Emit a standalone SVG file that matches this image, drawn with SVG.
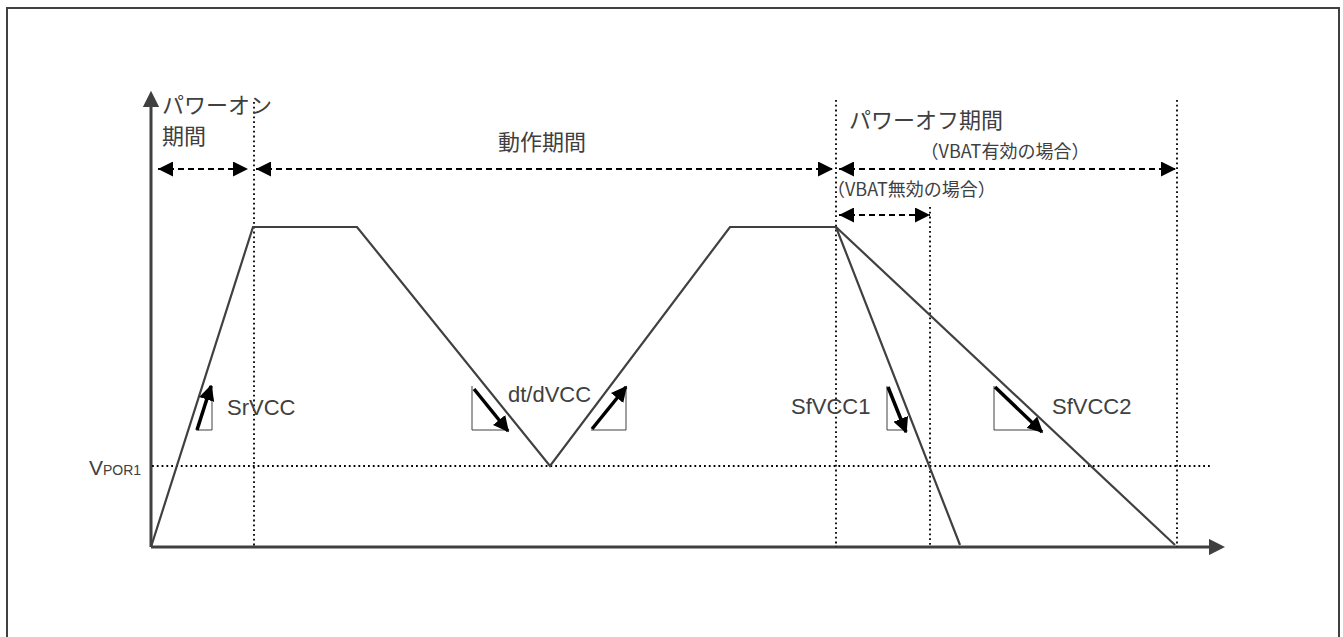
<svg xmlns="http://www.w3.org/2000/svg" width="1343" height="637" viewBox="0 0 1343 637">
<style>
.frame{fill:none;stroke:#404040;stroke-width:2}
.axis{fill:none;stroke:#404040;stroke-width:3}
.wave{fill:none;stroke:#404040;stroke-width:2.2;stroke-linejoin:miter}
.dot{fill:none;stroke:#000;stroke-width:1.8;stroke-dasharray:1.8 3}
.dash{fill:none;stroke:#000;stroke-width:2;stroke-dasharray:6 4}
.tri{fill:none;stroke:#404040;stroke-width:1}
.slope{fill:none;stroke:#000;stroke-width:3.5}
.t{font-family:"Liberation Sans","Noto Sans CJK JP",sans-serif;fill:#404040}
.j{font-family:"Noto Sans CJK JP","Liberation Sans",sans-serif;fill:#404040}
</style>
<defs>
<marker id="ah" viewBox="0 0 10 10" refX="10" refY="5" markerWidth="7.5" markerHeight="7.5" orient="auto-start-reverse" markerUnits="strokeWidth"><path d="M0,0 L10,5 L0,10 z" fill="#000"/></marker>
<marker id="sh" viewBox="0 0 10 10" refX="9" refY="5" markerWidth="4.5" markerHeight="4.5" orient="auto" markerUnits="strokeWidth"><path d="M0,0 L10,5 L0,10 z" fill="#000"/></marker>
<marker id="ax" viewBox="0 0 10 10" refX="2" refY="5" markerWidth="5.5" markerHeight="5.5" orient="auto" markerUnits="strokeWidth"><path d="M0,0 L10,5 L0,10 z" fill="#404040"/></marker>
</defs>
<rect width="1343" height="637" fill="#fff"/>
<path class="frame" d="M7,640 V8 H1339 V640"/>

<g id="axes">
<line class="axis" x1="151" y1="547" x2="151" y2="104" marker-end="url(#ax)"/>
<line class="axis" x1="151" y1="547" x2="1212" y2="547" marker-end="url(#ax)"/>
</g>

<g id="guides">
<line class="dot" x1="254" y1="102" x2="254" y2="547"/>
<line class="dot" x1="836" y1="100" x2="836" y2="547"/>
<line class="dot" x1="930" y1="207" x2="930" y2="547"/>
<line class="dot" x1="1177" y1="100" x2="1177" y2="547"/>
<line class="dot" x1="152" y1="466" x2="1210" y2="466"/>
</g>

<g id="waveform">
<polyline class="wave" points="151,547 253,227 357,227 550,466 730,227 836,227 960,545"/>
<line class="wave" x1="836" y1="227" x2="1175" y2="545"/>
</g>

<g id="connectors">
<line class="dash" x1="158" y1="169" x2="248" y2="169" marker-start="url(#ah)" marker-end="url(#ah)"/>
<line class="dash" x1="256" y1="169" x2="833" y2="169" marker-start="url(#ah)" marker-end="url(#ah)"/>
<line class="dash" x1="839" y1="169" x2="1176" y2="169" marker-start="url(#ah)" marker-end="url(#ah)"/>
<line class="dash" x1="839" y1="215" x2="930" y2="215" marker-start="url(#ah)" marker-end="url(#ah)"/>
</g>

<g id="slope-srvcc">
<polyline class="tri" points="212,386 212,430 196,430"/>
<line class="slope" x1="197" y1="430" x2="211" y2="386" marker-end="url(#sh)"/>
<text class="t" x="227" y="415" font-size="22">SrVCC</text>
</g>
<g id="slope-dtdvcc">
<polyline class="tri" points="472,386 472,430 507,430"/>
<line class="slope" x1="474" y1="389" x2="508" y2="431" marker-end="url(#sh)"/>
<polyline class="tri" points="626,386 626,430 591,430"/>
<line class="slope" x1="592" y1="429" x2="626" y2="387" marker-end="url(#sh)"/>
<text class="t" x="508" y="402" font-size="22">dt/dVCC</text>
</g>
<g id="slope-sfvcc1">
<polyline class="tri" points="887,386 887,430 906,430"/>
<line class="slope" x1="888" y1="387" x2="906" y2="432" marker-end="url(#sh)"/>
<text class="t" x="791" y="414" font-size="22">SfVCC1</text>
</g>
<g id="slope-sfvcc2">
<polyline class="tri" points="994,386 994,430 1040,430"/>
<line class="slope" x1="995" y1="387" x2="1042" y2="432" marker-end="url(#sh)"/>
<text class="t" x="1052" y="414" font-size="22">SfVCC2</text>
</g>

<g id="labels">
<text class="j" x="162" y="113" font-size="22">パワーオン</text>
<text class="j" x="162" y="144" font-size="22">期間</text>
<text class="j" x="542" y="150" font-size="22" text-anchor="middle">動作期間</text>
<text class="j" x="849" y="128" font-size="22">パワーオフ期間</text>
<text class="j" x="1005" y="158" font-size="18" text-anchor="middle">（VBAT有効の場合）</text>
<text class="j" x="827" y="196" font-size="18">（VBAT無効の場合）</text>
<text class="t" x="89" y="475" font-size="21">V<tspan font-size="14">POR1</tspan></text>
</g>
</svg>
